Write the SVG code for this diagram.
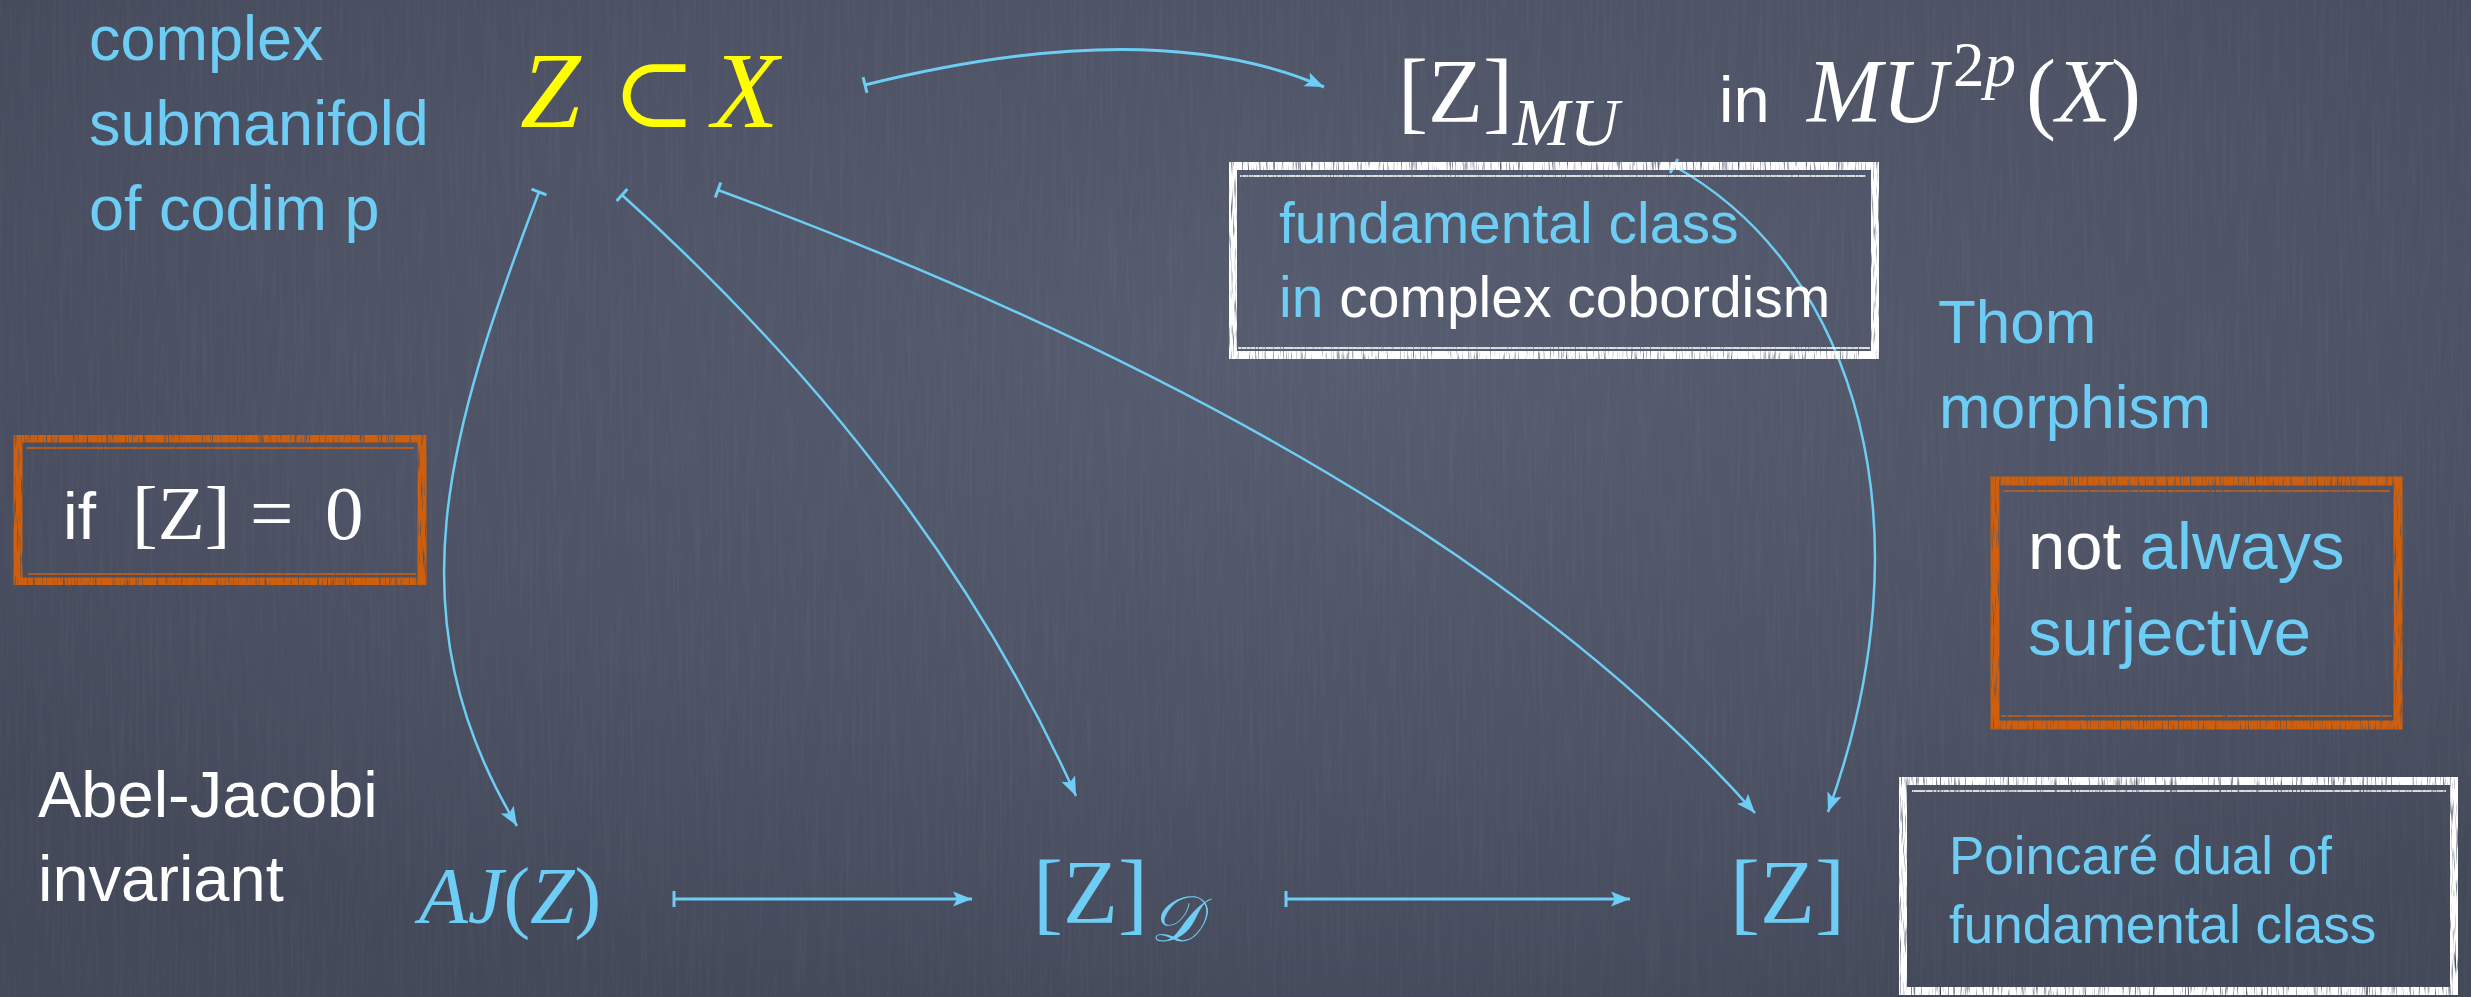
<svg xmlns="http://www.w3.org/2000/svg" width="2471" height="997" viewBox="0 0 2471 997">
  <defs>
    <style>
      .hand { font-family: "Liberation Sans", "DejaVu Sans", sans-serif; }
      .math { font-family: "Liberation Serif", "DejaVu Serif", serif; }
      .it { font-style: italic; }
      .blue { fill: #6ecdf4; }
      .white { fill: #ffffff; }
      .yellow { fill: #ffff00; }
      .conn { fill: none; stroke: #6ecdf4; stroke-width: 2.5; }
      .conn-thick { fill: none; stroke: #6ecdf4; stroke-width: 3; }
      .box-white { fill: none; stroke: #ffffff; stroke-width: 8; }
      .box-orange { fill: none; stroke: #cf5f0c; stroke-width: 9; }
      .box-inner-white { fill: none; stroke: #ffffff; stroke-width: 2; opacity: 0.8; }
      .box-inner-orange { fill: none; stroke: #cf5f0c; stroke-width: 2; opacity: 0.8; }
    </style>
    <radialGradient id="bgGlow" cx="0.55" cy="0.35" r="0.7">
      <stop offset="0" stop-color="#575d70"/>
      <stop offset="0.6" stop-color="#4d5365"/>
      <stop offset="1" stop-color="#44495a"/>
    </radialGradient>
    <filter id="grain" x="0" y="0" width="100%" height="100%">
      <feTurbulence type="fractalNoise" baseFrequency="0.3 0.01" numOctaves="3" seed="7"/>
      <feColorMatrix type="matrix" values="0 0 0 0 1  0 0 0 0 1  0 0 0 0 1  0.7 0 0 0 -0.3"/>
    </filter>
    <filter id="chalk" x="-2%" y="-2%" width="104%" height="104%">
      <feTurbulence type="fractalNoise" baseFrequency="0.6 0.04" numOctaves="2" seed="3" result="n"/>
      <feColorMatrix in="n" type="matrix" values="0 0 0 0 0  0 0 0 0 0  0 0 0 0 0  0 0 0 -3 2.6" result="m"/>
      <feComposite in="SourceGraphic" in2="m" operator="in"/>
    </filter>
    <marker id="head" markerUnits="userSpaceOnUse" markerWidth="40" markerHeight="40" orient="auto" overflow="visible" refX="0" refY="0">
      <path d="M0,0 L-19,-7.5 L-15,0 L-19,7.5 Z" fill="#6ecdf4"/>
    </marker>
    <marker id="tick" markerUnits="userSpaceOnUse" markerWidth="40" markerHeight="40" orient="auto" overflow="visible" refX="0" refY="0">
      <path d="M0,-8 L0,8" stroke="#6ecdf4" stroke-width="3" fill="none"/>
    </marker>
  </defs>

  <!-- chalkboard background -->
  <rect x="0" y="0" width="2471" height="997" fill="url(#bgGlow)"/>
  <rect x="0" y="0" width="2471" height="997" filter="url(#grain)" opacity="0.1"/>

  <!-- connectors -->
  <g id="connectors">
    <path id="e-Z-MU" class="conn-thick" d="M865,85 Q1154,13 1324,87" marker-start="url(#tick)" marker-end="url(#head)"/>
    <path id="e-Z-AJ" class="conn" d="M539,192 C448,432 391,616 517,826" marker-start="url(#tick)" marker-end="url(#head)"/>
    <path id="e-Z-ZD" class="conn" d="M622,195 Q931,473 1076,796" marker-start="url(#tick)" marker-end="url(#head)"/>
    <path id="e-Z-Z" class="conn" d="M718,190 Q1439,457 1755,813" marker-start="url(#tick)" marker-end="url(#head)"/>
    <path id="e-MU-Z" class="conn" d="M1674,166 C1860,270 1930,530 1828,812" marker-start="url(#tick)" marker-end="url(#head)"/>
    <path id="e-AJ-ZD" class="conn-thick" d="M674,899 H972" marker-start="url(#tick)" marker-end="url(#head)"/>
    <path id="e-ZD-Z" class="conn-thick" d="M1286,899 H1630" marker-start="url(#tick)" marker-end="url(#head)"/>
  </g>

  <!-- label: complex submanifold of codim p -->
  <g id="n-submanifold" class="hand blue" font-size="63">
    <text x="89" y="60">complex</text>
    <text x="89" y="145">submanifold</text>
    <text x="89" y="230">of codim p</text>
  </g>

  <!-- Z subset X -->
  <g id="n-ZX" class="math yellow" font-size="109">
    <text x="520" y="127" class="it">Z</text>
    <text x="612" y="127" font-family="DejaVu Serif, serif" font-size="100">⊂</text>
    <text x="712" y="127" class="it">X</text>
  </g>

  <!-- [Z]_MU in MU^2p(X) -->
  <g id="n-ZMU" class="white">
    <text class="math" x="1398" y="122" font-size="90">[Z]</text>
    <text class="math it" x="1513" y="145" font-size="68">MU</text>
    <text class="hand" x="1719" y="122" font-size="65">in</text>
    <text class="math it" x="1807" y="122" font-size="90">MU</text>
    <text class="math" x="1953" y="86" font-size="63">2<tspan class="it">p</tspan></text>
    <text class="math" x="2026" y="122" font-size="90">(<tspan class="it">X</tspan>)</text>
  </g>

  <!-- fundamental class in complex cobordism box -->
  <g id="n-cobordism-box">
    <g filter="url(#chalk)">
      <rect class="box-white" x="1233" y="166" width="642" height="189"/>
      <path class="box-inner-white" d="M1240,176 H1866 M1238,348 H1870"/>
    </g>
    <text class="hand blue" x="1279" y="243" font-size="57">fundamental class</text>
    <text class="hand" x="1279" y="317" font-size="57"><tspan class="blue">in</tspan><tspan class="white"> complex cobordism</tspan></text>
  </g>

  <!-- Thom morphism -->
  <g id="n-thom" class="hand blue" font-size="62">
    <text x="1938" y="343">Thom</text>
    <text x="1939" y="428">morphism</text>
  </g>

  <!-- if [Z] = 0 box -->
  <g id="n-if-box">
    <g filter="url(#chalk)">
      <rect class="box-orange" x="18" y="438" width="404" height="144"/>
      <path class="box-inner-orange" d="M26,448 H414 M28,574 H416"/>
    </g>
    <text class="hand white" x="63" y="539" font-size="66">if</text>
    <g class="math white" font-size="77">
      <text x="132" y="539">[Z]</text>
      <text x="250" y="539">=</text>
      <text x="325" y="539">0</text>
    </g>
  </g>

  <!-- Abel-Jacobi invariant -->
  <g id="n-abel" class="hand white" font-size="65">
    <text x="38" y="817">Abel-Jacobi</text>
    <text x="38" y="901">invariant</text>
  </g>

  <!-- AJ(Z) -->
  <g id="n-AJ" class="math blue" font-size="80">
    <text x="419" y="923"><tspan class="it">AJ</tspan>(<tspan class="it">Z</tspan>)</text>
  </g>

  <!-- [Z]_D -->
  <g id="n-ZD" class="math blue">
    <text x="1033" y="923" font-size="90">[Z]</text>
    <text x="1150" y="941" font-size="64" class="it">𝒟</text>
  </g>

  <!-- [Z] -->
  <g id="n-Z" class="math blue">
    <text x="1730" y="923" font-size="90">[Z]</text>
  </g>

  <!-- not always surjective box -->
  <g id="n-surj-box">
    <g filter="url(#chalk)">
      <rect class="box-orange" x="1995" y="481" width="403" height="244"/>
      <path class="box-inner-orange" d="M2003,491 H2390 M2001,716 H2392"/>
    </g>
    <text class="hand" x="2028" y="569" font-size="67"><tspan class="white">not</tspan><tspan class="blue"> always</tspan></text>
    <text class="hand blue" x="2028" y="655" font-size="67">surjective</text>
  </g>

  <!-- Poincare dual box -->
  <g id="n-poincare-box">
    <g filter="url(#chalk)">
      <rect class="box-white" x="1903" y="781" width="551" height="210"/>
      <path class="box-inner-white" d="M1912,791 H2446"/>
    </g>
    <text class="hand blue" x="1949" y="874" font-size="53">Poincaré dual of</text>
    <text class="hand blue" x="1949" y="943" font-size="53">fundamental class</text>
  </g>
</svg>
